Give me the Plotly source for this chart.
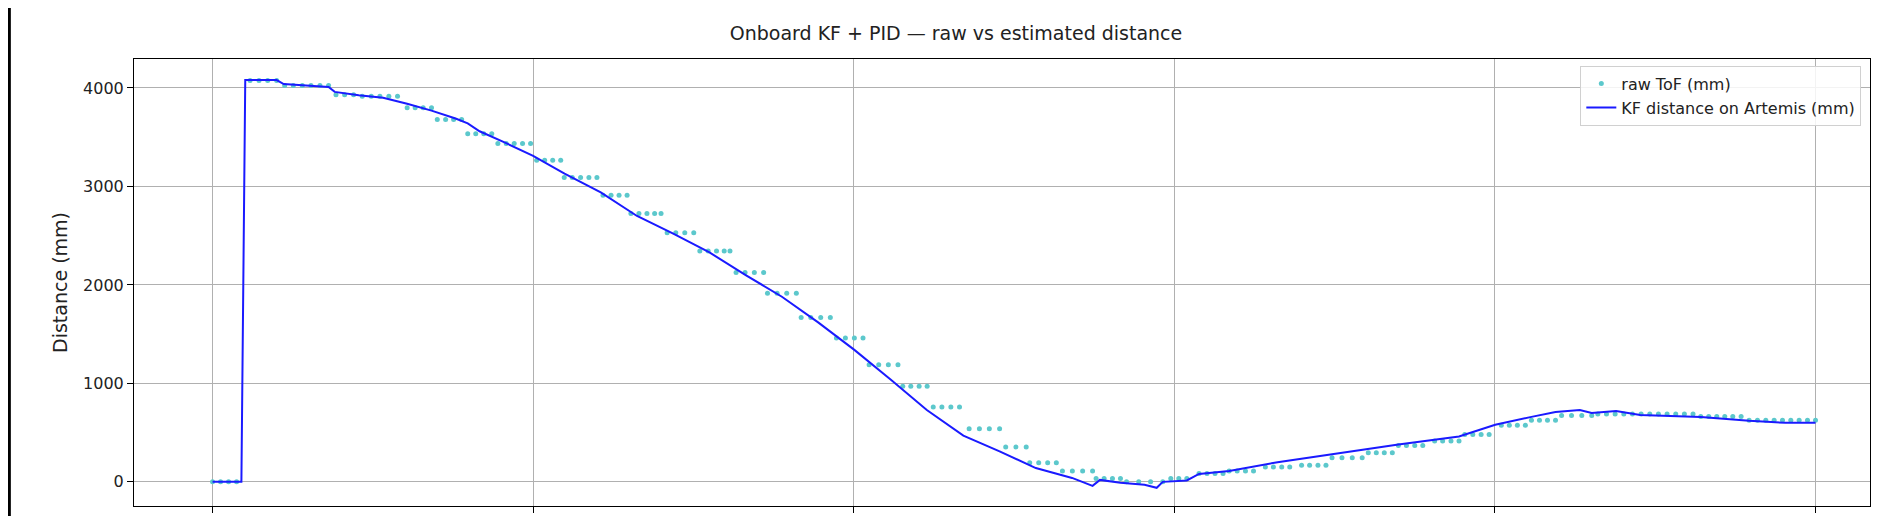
import plotly.graph_objects as go

# raw ToF plateaus: level (mm) and sample x positions
raw_levels = [0, 4075, 4025, 3930, 3915, 3800, 3680, 3535, 3435, 3265, 3090, 2910, 2725, 2530, 2345,
              2125, 1915, 1670, 1460, 1190, 970, 760, 540, 355, 195, 110, 35, 0, 35, 85, 110, 150,
              170, 245, 295, 370, 415, 480, 575, 625, 675, 690, 665, 625]
raw_xgroups = [
    [0, 2.5, 5, 7.5],
    [11.7, 14.5, 17.2, 20.0],
    [22.5, 25.2, 28, 30.7, 33.5, 36.2],
    [38.5, 41.2, 44],
    [46.7, 49.5, 52.2, 55, 57.7],
    [60.7, 63.2, 65.7, 68.3],
    [70.1, 72.7, 75.2, 77.7],
    [79.6, 82.1, 84.6, 87.1],
    [89.0, 91.6, 94.1, 96.7, 99.2],
    [101.1, 103.6, 106.1, 108.6],
    [109.7, 112.2, 114.8, 117.4, 119.9],
    [121.8, 124.3, 126.8, 129.3],
    [130.5, 133, 135.5, 137.9, 139.9],
    [141.8, 144.5, 147.3, 150.1],
    [152.0, 154.6, 157.2, 159.6, 161.4],
    [163.3, 166.1, 169, 171.9],
    [173.1, 176.1, 179.1, 182.1],
    [183.6, 186.6, 189.7, 192.7],
    [194.6, 197.4, 200.2, 202.9],
    [204.8, 207.8, 210.8, 213.8],
    [215.3, 217.8, 220.4, 222.9],
    [224.8, 227.5, 230.3, 233.0],
    [236.0, 239.2, 242.3, 245.5],
    [247.4, 250.6, 253.8],
    [254.9, 257.7, 260.5, 263.2],
    [265.1, 268.2, 271.4, 274.5],
    [275.6, 278.1, 280.7, 283.2],
    [285.1, 288.9, 292.6, 296.4],
    [298.9, 301.4, 303.9],
    [307.7, 310.2, 312.7, 315.2],
    [317.1, 319.6, 322.2, 324.7],
    [328.4, 330.9, 333.5, 336.0],
    [339.7, 342.2, 344.8, 347.3],
    [349.2, 352.3, 355.5, 358.6],
    [360.5, 363, 365.5, 368.0],
    [369.9, 372.4, 375, 377.5],
    [381.2, 383.7, 386.3, 388.8],
    [390.6, 393.1, 395.7, 398.2],
    [402.0, 404.5, 407, 409.5],
    [411.4, 413.9, 416.4, 418.9],
    [420.8, 423.9, 427.1, 430.2],
    [432.1, 434.8, 437.5, 440.2, 442.9, 445.6, 448.3, 451, 453.7, 456.4, 459.1, 461.8],
    [464.2, 466.7, 469.2, 471.7, 474.2, 476.8],
    [479.3, 481.9, 484.5, 487.1, 489.7, 492.3, 494.9, 497.5, 500],
]

kf_x = [0, 9.0, 10.2, 20.0, 22.2, 36.2, 38.1, 45.6, 53.2, 60.7, 68.3, 75.8, 79.6, 83.3, 90.9, 100,
        109.8, 121.1, 132.4, 143.7, 155.0, 166.3, 177.6, 188.9, 200.2, 211.5, 222.8, 234.2, 245.5,
        256.8, 268.1, 274.5, 276.8, 283.2, 290.7, 294.5, 296.4, 303.9, 307.7, 317.1, 332.2, 351.1,
        369.9, 388.8, 400.1, 411.4, 418.9, 426.5, 430.2, 437.8, 445.3, 464.2, 479.3, 490.6, 500]
kf_y = [0, 0, 4080, 4080, 4040, 4010, 3960, 3925, 3900, 3840, 3770, 3690, 3640, 3560, 3450, 3310,
        3130, 2940, 2700, 2520, 2330, 2100, 1880, 1620, 1340, 1040, 730, 470, 310, 140, 40, -40, 20,
        -10, -30, -60, 0, 15, 80, 110, 200, 290, 380, 460, 580, 660, 710, 730, 700, 720, 680, 660,
        620, 600, 600]

x_ticks = [0, 100, 200, 300, 400, 500]
y_ticks = [0, 1000, 2000, 3000, 4000]

raw_x, raw_y = [], []
for lvl, xs in zip(raw_levels, raw_xgroups):
    raw_x += xs
    raw_y += [lvl] * len(xs)

fig = go.Figure()
fig.add_trace(go.Scatter(x=raw_x, y=raw_y, mode="markers", name="raw ToF (mm)",
                         marker=dict(color="#5cc8cc", size=5)))
fig.add_trace(go.Scatter(x=kf_x, y=kf_y, mode="lines", name="KF distance on Artemis (mm)",
                         line=dict(color="#1a1aff", width=2)))

ax = dict(showgrid=True, gridcolor="#b0b0b0", gridwidth=1, showline=True, linecolor="black",
          mirror=True, ticks="outside", ticklen=6, tickcolor="black", zeroline=False)
fig.update_layout(
    width=1896, height=516, plot_bgcolor="white", paper_bgcolor="white",
    font=dict(family="DejaVu Sans", size=16, color="#222"),
    margin=dict(l=126, r=34, t=51, b=18),
    title=dict(text="Onboard KF + PID — raw vs estimated distance", x=0.5, xanchor="center",
               y=0.95, yanchor="middle", font=dict(size=19)),
    xaxis=dict(range=[-24.5, 517], tickvals=x_ticks, ticktext=[""] * len(x_ticks), **ax),
    yaxis=dict(range=[-245, 4294], tickvals=y_ticks, title=dict(text="Distance (mm)", standoff=10), **ax),
    legend=dict(x=0.995, y=0.985, xanchor="right", yanchor="top", bordercolor="#d0d0d0",
                borderwidth=1, bgcolor="rgba(255,255,255,0.85)", font=dict(size=16)),
    shapes=[dict(type="line", xref="paper", yref="paper", x0=-0.0718, x1=-0.0718, y0=-0.05, y1=1.15,
                 line=dict(color="black", width=3))],
)
fig.write_html("out.html")
